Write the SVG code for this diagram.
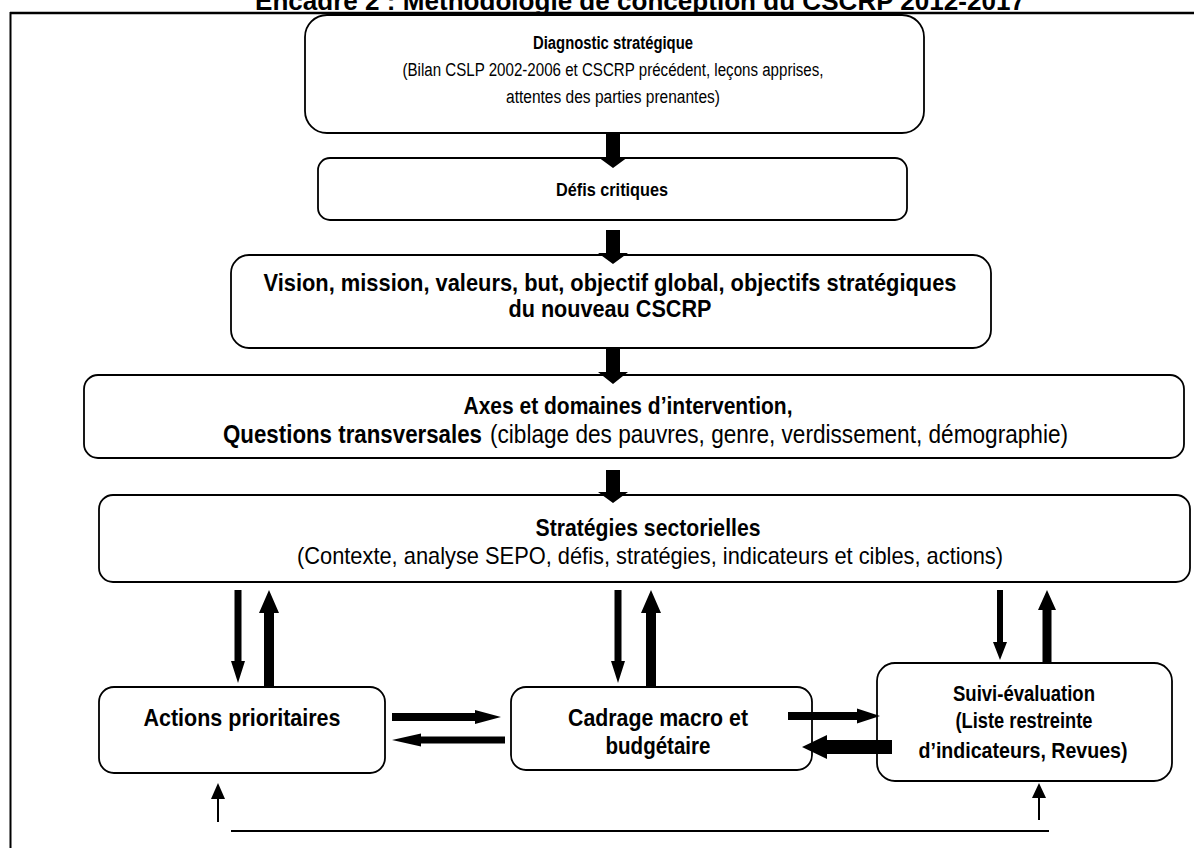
<svg xmlns="http://www.w3.org/2000/svg" width="1194" height="848" viewBox="0 0 1194 848">
<style>
text{font-family:"Liberation Sans",Arial,sans-serif;fill:#000}
.b{font-weight:bold}
.m{font-size:24px}
.s{font-size:18px}
.box{fill:#fff;stroke:#000;stroke-width:1.8}
.ar{fill:#000;stroke:none}
.ln{stroke:#000;fill:none}
</style>
<rect width="1194" height="848" fill="#fff"/>
<g id="frame">
<text x="640" y="10" text-anchor="middle" class="b" style="font-size:26px" textLength="770" lengthAdjust="spacingAndGlyphs">Encadré 2 : Méthodologie de conception du CSCRP 2012-2017</text>
<line x1="10" y1="13" x2="1194" y2="13" class="ln" stroke-width="2.5"/>
<line x1="10.5" y1="12" x2="10.5" y2="848" class="ln" stroke-width="2"/>
</g>
<g id="node-diagnostic">
<rect class="box" x="305" y="15" width="619" height="118" rx="22"/>
<text class="s b" x="613" y="48.5" text-anchor="middle" textLength="160" lengthAdjust="spacingAndGlyphs">Diagnostic stratégique</text>
<text class="s" x="613" y="75.5" text-anchor="middle" textLength="421" lengthAdjust="spacingAndGlyphs">(Bilan CSLP 2002-2006 et CSCRP précédent, leçons apprises,</text>
<text class="s" x="613" y="102.5" text-anchor="middle" textLength="214" lengthAdjust="spacingAndGlyphs">attentes des parties prenantes)</text>
</g>
<g id="node-defis">
<rect class="box" x="318" y="158" width="589" height="62" rx="12"/>
<text class="b" style="font-size:19px" x="612" y="196" text-anchor="middle" textLength="112" lengthAdjust="spacingAndGlyphs">Défis critiques</text>
</g>
<g id="node-vision">
<rect class="box" x="231" y="255" width="760" height="93" rx="18"/>
<text class="m b" x="610" y="290.5" text-anchor="middle" textLength="693" lengthAdjust="spacingAndGlyphs">Vision, mission, valeurs, but, objectif global, objectifs stratégiques</text>
<text class="m b" x="610" y="316.5" text-anchor="middle" textLength="203" lengthAdjust="spacingAndGlyphs">du nouveau CSCRP</text>
</g>
<g id="node-axes">
<rect class="box" x="84" y="375" width="1100" height="83" rx="14"/>
<text class="m b" x="628" y="413.5" text-anchor="middle" textLength="329" lengthAdjust="spacingAndGlyphs">Axes et domaines d’intervention,</text>
<text class="b" x="223" y="443" style="font-size:25px" textLength="259" lengthAdjust="spacingAndGlyphs">Questions transversales</text>
<text x="490" y="443" style="font-size:25px" textLength="578" lengthAdjust="spacingAndGlyphs">(ciblage des pauvres, genre, verdissement, démographie)</text>
</g>
<g id="node-strategies">
<rect class="box" x="99" y="495" width="1091" height="87" rx="14"/>
<text class="m b" x="648" y="535.5" text-anchor="middle" textLength="225" lengthAdjust="spacingAndGlyphs">Stratégies sectorielles</text>
<text class="m" x="650" y="563.5" text-anchor="middle" textLength="706" lengthAdjust="spacingAndGlyphs">(Contexte, analyse SEPO, défis, stratégies, indicateurs et cibles, actions)</text>
</g>
<g id="node-actions">
<rect class="box" x="99" y="687" width="286" height="86" rx="15"/>
<text class="m b" x="242" y="725.5" text-anchor="middle" textLength="197" lengthAdjust="spacingAndGlyphs">Actions prioritaires</text>
</g>
<g id="node-cadrage">
<rect class="box" x="511" y="687" width="301" height="83" rx="15"/>
<text class="m b" x="658" y="725.5" text-anchor="middle" textLength="180" lengthAdjust="spacingAndGlyphs">Cadrage macro et</text>
<text class="m b" x="658" y="753.5" text-anchor="middle" textLength="105" lengthAdjust="spacingAndGlyphs">budgétaire</text>
</g>
<g id="node-suivi">
<rect class="box" x="877" y="663" width="295" height="118" rx="18"/>
<text class="b" x="1024" y="701" style="font-size:22px" text-anchor="middle" textLength="142" lengthAdjust="spacingAndGlyphs">Suivi-évaluation</text>
<text class="b" x="1024" y="728" style="font-size:22px" text-anchor="middle" textLength="137" lengthAdjust="spacingAndGlyphs">(Liste restreinte</text>
<text class="b" x="1023" y="758" style="font-size:22px" text-anchor="middle" textLength="209" lengthAdjust="spacingAndGlyphs">d’indicateurs, Revues)</text>
</g>
<g id="connectors">
<polygon class="ar" points="606,133 620,133 620,157 628,157 613,168 598,157 606,157"/>
<polygon class="ar" points="606,230 620,230 620,253 628,253 613,264 598,253 606,253"/>
<polygon class="ar" points="606,348 620,348 620,372 628,372 613,384 598,372 606,372"/>
<polygon class="ar" points="606,470 620,470 620,492 628,492 613,503 598,492 606,492"/>
<polygon class="ar" points="234.5,590 241.5,590 241.5,661 245,661 238,683 231,661 234.5,661"/>
<polygon class="ar" points="614.5,590 621.5,590 621.5,661 625,661 618,683 611,661 614.5,661"/>
<polygon class="ar" points="997,590 1003,590 1003,642 1007,642 1000,660 993,642 997,642"/>
<polygon class="ar" points="264,687 274,687 274,613 279,613 269,590 259,613 264,613"/>
<polygon class="ar" points="646,687 656,687 656,613 661,613 651,590 641,613 646,613"/>
<polygon class="ar" points="1042.5,662 1051.5,662 1051.5,610 1056,610 1047,590 1038,610 1042.5,610"/>
<polygon class="ar" points="392,713 475,713 475,710 501,717 475,724 475,721 392,721"/>
<polygon class="ar" points="505,736.5 421,736.5 421,733.5 392,740 421,746.5 421,743.5 505,743.5"/>
<polygon class="ar" points="788,712 857,712 857,708.5 880,716 857,723.5 857,720 788,720"/>
<polygon class="ar" points="892,740 827,740 827,735 802,747 827,759 827,754 892,754"/>
<line class="ln" x1="231" y1="831" x2="1049" y2="831" stroke-width="2"/>
<line class="ln" x1="218" y1="822" x2="218" y2="798" stroke-width="2"/>
<polygon class="ar" points="211,799 225,799 218,783"/>
<line class="ln" x1="1039" y1="820" x2="1039" y2="797" stroke-width="2"/>
<polygon class="ar" points="1032,798 1046,798 1039,783"/>
</g>
</svg>
